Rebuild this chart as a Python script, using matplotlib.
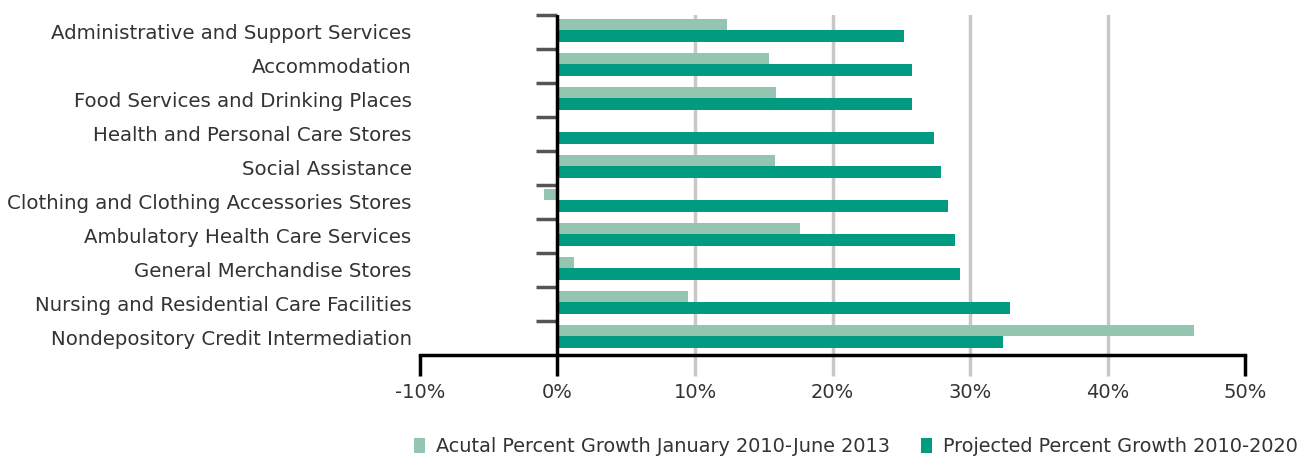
import matplotlib.pyplot as plt
import numpy as np

categories = [
    "Administrative and Support Services",
    "Accommodation",
    "Food Services and Drinking Places",
    "Health and Personal Care Stores",
    "Social Assistance",
    "Clothing and Clothing Accessories Stores",
    "Ambulatory Health Care Services",
    "General Merchandise Stores",
    "Nursing and Residential Care Facilities",
    "Nondepository Credit Intermediation",
]
actual = [12.3, 15.4, 15.9, 0.0, 15.8, -1.0, 17.6, 1.2, 9.5, 46.3]
projected = [25.2, 25.8, 25.8, 27.4, 27.9, 28.4, 28.9, 29.3, 32.9, 32.4]
x_ticks = [-10, 0, 10, 20, 30, 40, 50]

LIGHT = "#93c5b1"
TEAL = "#009b80"
GRID = "#c8c8c8"
TEXT = "#333333"

plt.rcParams["font.family"] = ["DejaVu Sans"]

fig = plt.figure(figsize=(13.14, 4.62), dpi=100)
ax = fig.add_axes([0.3196, 0.232, 0.628, 0.736])

y = np.arange(len(categories))
h = 0.33
ax.barh(y - h / 2 - 0.04, actual, height=h, color=LIGHT,
        label="Acutal Percent Growth January 2010-June 2013", zorder=3)
ax.barh(y + h / 2 - 0.04, projected, height=h, color=TEAL,
        label="Projected Percent Growth 2010-2020", zorder=3)

ax.set_xlim(-10, 50)
ax.set_ylim(len(categories) - 0.5, -0.5)

ax.set_yticks(y)
ax.set_yticklabels(categories, fontsize=14.2, color=TEXT)
ax.tick_params(axis="y", length=0, pad=6)

ax.set_xticks(x_ticks)
ax.set_xticklabels([f"{v}%" for v in x_ticks], fontsize=14, color=TEXT)
ax.tick_params(axis="x", direction="out", length=15, width=2.5, color=GRID, pad=5)
ax.grid(axis="x", color=GRID, linewidth=2.5, zorder=0)
for t, v in zip(ax.xaxis.get_major_ticks(), x_ticks):
    if v in (-10, 0, 50):
        t.tick1line.set_markeredgecolor("black")
        t.gridline.set_visible(False)

for s in ("top", "right", "left"):
    ax.spines[s].set_visible(False)
ax.spines["bottom"].set_linewidth(2.5)
ax.spines["bottom"].set_zorder(4)

# category axis sits at 0%, with ticks between the groups
ax.axvline(0, color="black", linewidth=2.5, zorder=4)
sec = ax.secondary_yaxis((0 - (-10)) / 60)
sec.set_yticks(np.arange(len(categories)) - 0.5)
sec.set_yticklabels([])
sec.spines["left"].set_visible(False)
sec.tick_params(axis="y", direction="out", length=15, width=2.5, color="#555555")

fig.legend(loc="center", bbox_to_anchor=(0.6515, 0.033), ncol=2, frameon=False,
           fontsize=13.9, handlelength=0.55, handleheight=0.75, handletextpad=0.6,
           columnspacing=1.6, labelcolor=TEXT)

fig.savefig("out.png", dpi=100)
